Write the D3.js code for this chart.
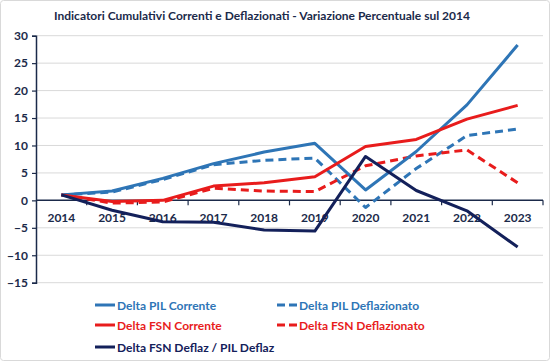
<!DOCTYPE html>
<html><head><meta charset="utf-8">
<script src="https://cdn.jsdelivr.net/npm/d3@7"></script>
<style>body{margin:0;background:#fff}svg{display:block}text{font-family:Lato,"Open Sans",sans-serif}</style>
</head><body>
<svg id="c" width="550" height="361"></svg>
<script>
const years = ["2014","2015","2016","2017","2018","2019","2020","2021","2022","2023"];
const pilCorrente = [1, 1.7, 4.0, 6.7, 8.8, 10.4, 1.9, 8.9, 17.4, 28.3];
const pilDeflaz   = [1, 1.5, 3.8, 6.5, 7.3, 7.7, -1.3, 5.8, 11.8, 13.0];
const fsnCorrente = [1, -0.2, 0.0, 2.6, 3.2, 4.3, 9.8, 11.1, 14.8, 17.3];
const fsnDeflaz   = [1, -0.5, -0.3, 2.2, 1.7, 1.6, 6.3, 8.1, 9.2, 3.2];
const fsnSuPil    = [1, -1.8, -3.9, -4.0, -5.4, -5.6, 8.0, 1.8, -1.9, -8.5];
const yTicks = [30, 25, 20, 15, 10, 5, 0, -5, -10, -15];
const title = "Indicatori Cumulativi Correnti e Deflazionati - Variazione Percentuale sul 2014";

(function(){
const series = [
  {name:"Delta PIL Corrente", values:pilCorrente, color:"#2E75B6", dash:null},
  {name:"Delta PIL Deflazionato", values:pilDeflaz, color:"#2E75B6", dash:"8,5"},
  {name:"Delta FSN Corrente", values:fsnCorrente, color:"#E81C1C", dash:null},
  {name:"Delta FSN Deflazionato", values:fsnDeflaz, color:"#E81C1C", dash:"8,5"},
  {name:"Delta FSN Deflaz / PIL Deflaz", values:fsnSuPil, color:"#13205A", dash:null}
];

const svg = d3.select("#c");
const axisColor = "#1B2A4A";
svg.append("rect").attr("x",0.5).attr("y",0.5).attr("width",549).attr("height",360)
  .attr("fill","#fff").attr("stroke","#d9d9d9").attr("rx",3);

const mLeft = 36, mRight = 543, mTop = 35.7, mBottom = 282.7;
const x = d3.scaleBand().domain(years).range([mLeft, mRight]);
const y = d3.scaleLinear().domain([-15, 30]).range([mBottom, mTop]);

svg.append("text").attr("x", 262).attr("y", 19.5).attr("text-anchor","middle")
  .attr("font-size", 12).attr("font-weight", 700).attr("fill", "#1B2A4A").text(title);

svg.append("g").selectAll("line").data(yTicks.filter(d=>d!==0)).join("line")
  .attr("x1", mLeft).attr("x2", mRight).attr("y1", d=>y(d)).attr("y2", d=>y(d))
  .attr("stroke","#d9d9d9").attr("stroke-width",1);

const yAxis = d3.axisLeft(y).tickValues(yTicks).tickSize(4).tickPadding(4).tickFormat(d3.format("d"));
const gy = svg.append("g").attr("transform",`translate(${mLeft},0)`).call(yAxis);
gy.select(".domain").attr("stroke",axisColor).attr("stroke-width",1.5);
gy.selectAll(".tick line").attr("stroke",axisColor).attr("stroke-width",1.2);
gy.selectAll(".tick text").attr("font-size",12).attr("font-weight",700).attr("fill",axisColor)
  .attr("font-family","Lato,'Open Sans',sans-serif");

const gx = svg.append("g").attr("transform",`translate(0,${y(0)})`);
gx.append("line").attr("x1",mLeft).attr("x2",mRight).attr("stroke",axisColor).attr("stroke-width",1.5);
const bounds = years.map(d=>x(d)).concat([mRight]).slice(1);
gx.selectAll("line.tk").data(bounds).join("line").attr("class","tk")
  .attr("x1",d=>d).attr("x2",d=>d).attr("y1",0).attr("y2",5)
  .attr("stroke",axisColor).attr("stroke-width",1.2);
gx.selectAll("text").data(years).join("text")
  .attr("x", d=>x(d)+x.bandwidth()/2).attr("y", 22).attr("text-anchor","middle")
  .attr("font-size",12).attr("font-weight",700).attr("fill",axisColor).text(d=>d);

const line = d3.line().x((d,i)=>x(years[i])+x.bandwidth()/2).y(d=>y(d));
const order = [1,3,0,2,4];
svg.append("g").selectAll("path").data(order.map(i=>series[i])).join("path")
  .attr("d", d=>line(d.values)).attr("fill","none").attr("stroke", d=>d.color)
  .attr("stroke-width",3).attr("stroke-dasharray", d=>d.dash).attr("stroke-linejoin","round");

const legPos = [[95,305],[277,305],[95,325],[277,325],[95,347]];
const lg = svg.append("g").selectAll("g").data(series).join("g")
  .attr("transform",(d,i)=>`translate(${legPos[i][0]},${legPos[i][1]})`);
lg.append("line").attr("x1",0).attr("x2",20).attr("stroke",d=>d.color).attr("stroke-width",3)
  .attr("stroke-dasharray", d=>d.dash ? "8,4" : null);
lg.append("text").attr("x",22).attr("y",4.5).attr("font-size",12).attr("font-weight",700)
  .attr("fill",d=>d.color).text(d=>d.name);
})();
</script>
</body></html>
